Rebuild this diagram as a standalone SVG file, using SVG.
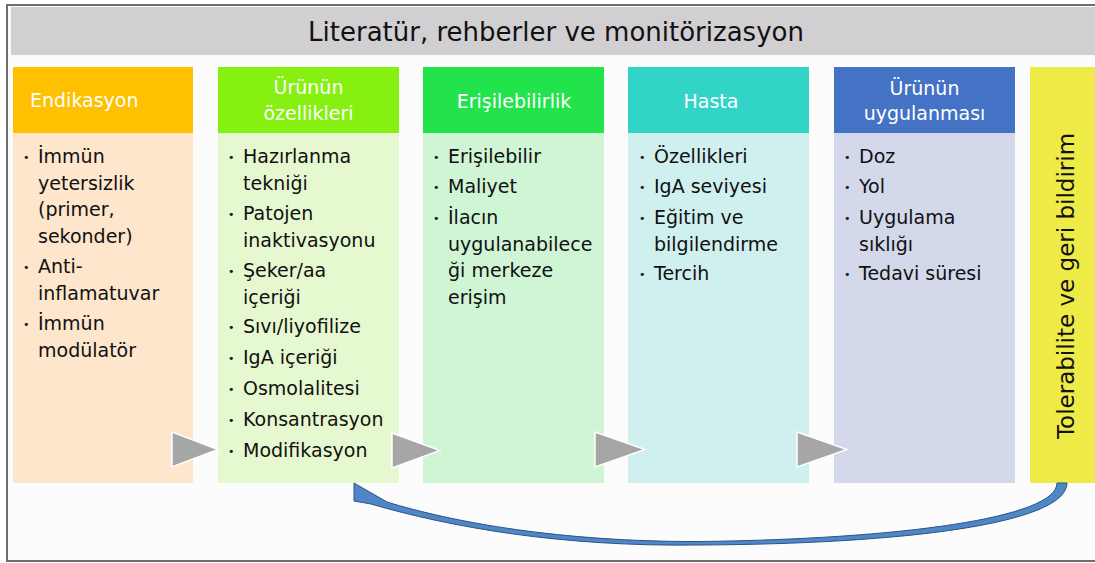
<svg xmlns="http://www.w3.org/2000/svg" width="1095" height="563" viewBox="0 0 1095 563">
<style>
text{font-family:"DejaVu Sans","Liberation Sans",sans-serif;}
.hd{fill:#ffffff;font-size:19px;}
.it{fill:#111111;font-size:19px;}
.bl{fill:#111111;font-size:11px;}
.ar{fill:#a6a6a6;stroke:#ffffff;stroke-width:1.5;stroke-linejoin:miter;}
</style>
<rect x="0" y="0" width="1095" height="563" fill="#ffffff"/>
<rect x="7" y="5" width="1090" height="556" fill="#fcfcfc" stroke="#6e6e6e" stroke-width="2"/>
<g id="title">
<rect x="11" y="7" width="1084" height="48" fill="#d1cfd1"/>
<text x="556" y="41" font-size="26" text-anchor="middle" fill="#111111">Literatür, rehberler ve monitörizasyon</text>
</g>
<g id="endikasyon">
<rect x="13" y="133" width="180" height="350" fill="#fde6cc"/>
<rect x="13" y="67" width="180" height="66" fill="#ffc000"/>
<text class="hd" x="30" y="107">Endikasyon</text>
<text class="bl" x="23" y="161">•</text>
<text class="it" x="38" y="163">İmmün</text>
<text class="it" x="38" y="189.5">yetersizlik</text>
<text class="it" x="38" y="216">(primer,</text>
<text class="it" x="38" y="242.5">sekonder)</text>
<text class="bl" x="23" y="271">•</text>
<text class="it" x="38" y="273">Anti-</text>
<text class="it" x="38" y="299.5">inflamatuvar</text>
<text class="bl" x="23" y="328">•</text>
<text class="it" x="38" y="330">İmmün</text>
<text class="it" x="38" y="356.5">modülatör</text>
</g>
<g id="urun-ozellikleri">
<rect x="218" y="133" width="181" height="350" fill="#e6f8cf"/>
<rect x="218" y="67" width="181" height="66" fill="#86f010"/>
<text class="hd" x="308.5" y="94" text-anchor="middle">Ürünün</text>
<text class="hd" x="308.5" y="120" text-anchor="middle">özellikleri</text>
<text class="bl" x="228" y="161">•</text>
<text class="it" x="243" y="163">Hazırlanma</text>
<text class="it" x="243" y="189.5">tekniği</text>
<text class="bl" x="228" y="218">•</text>
<text class="it" x="243" y="220">Patojen</text>
<text class="it" x="243" y="246.5">inaktivasyonu</text>
<text class="bl" x="228" y="275">•</text>
<text class="it" x="243" y="277">Şeker/aa</text>
<text class="it" x="243" y="303.5">içeriği</text>
<text class="bl" x="228" y="331">•</text>
<text class="it" x="243" y="333">Sıvı/liyofilize</text>
<text class="bl" x="228" y="362">•</text>
<text class="it" x="243" y="364">IgA içeriği</text>
<text class="bl" x="228" y="393">•</text>
<text class="it" x="243" y="395">Osmolalitesi</text>
<text class="bl" x="228" y="424">•</text>
<text class="it" x="243" y="426">Konsantrasyon</text>
<text class="bl" x="228" y="455">•</text>
<text class="it" x="243" y="457">Modifikasyon</text>
</g>
<g id="erisilebilirlik">
<rect x="423" y="133" width="181" height="350" fill="#cff5d4"/>
<rect x="423" y="67" width="181" height="66" fill="#22e34b"/>
<text class="hd" x="514" y="108" text-anchor="middle">Erişilebilirlik</text>
<text class="bl" x="433" y="161">•</text>
<text class="it" x="448" y="163">Erişilebilir</text>
<text class="bl" x="433" y="191">•</text>
<text class="it" x="448" y="193">Maliyet</text>
<text class="bl" x="433" y="222">•</text>
<text class="it" x="448" y="224">İlacın</text>
<text class="it" x="448" y="250.5">uygulanabilece</text>
<text class="it" x="448" y="277">ği merkeze</text>
<text class="it" x="448" y="303.5">erişim</text>
</g>
<g id="hasta">
<rect x="628" y="133" width="181" height="350" fill="#d0efef"/>
<rect x="628" y="67" width="181" height="66" fill="#33d4c8"/>
<text class="hd" x="711" y="108" text-anchor="middle">Hasta</text>
<text class="bl" x="639" y="161">•</text>
<text class="it" x="654" y="163">Özellikleri</text>
<text class="bl" x="639" y="191">•</text>
<text class="it" x="654" y="193">IgA seviyesi</text>
<text class="bl" x="639" y="222">•</text>
<text class="it" x="654" y="224">Eğitim ve</text>
<text class="it" x="654" y="250.5">bilgilendirme</text>
<text class="bl" x="639" y="278">•</text>
<text class="it" x="654" y="280">Tercih</text>
</g>
<g id="urun-uygulanmasi">
<rect x="834" y="133" width="181" height="350" fill="#d3d8ea"/>
<rect x="834" y="67" width="181" height="66" fill="#4472c4"/>
<text class="hd" x="924.5" y="95" text-anchor="middle">Ürünün</text>
<text class="hd" x="924.5" y="120" text-anchor="middle">uygulanması</text>
<text class="bl" x="844" y="161">•</text>
<text class="it" x="859" y="163">Doz</text>
<text class="bl" x="844" y="191">•</text>
<text class="it" x="859" y="193">Yol</text>
<text class="bl" x="844" y="222">•</text>
<text class="it" x="859" y="224">Uygulama</text>
<text class="it" x="859" y="250.5">sıklığı</text>
<text class="bl" x="844" y="278">•</text>
<text class="it" x="859" y="280">Tedavi süresi</text>
</g>
<g id="tolerabilite">
<rect x="1030" y="67" width="70" height="416" fill="#eeea46"/>
<text transform="translate(1074,286) rotate(-90)" font-size="23" text-anchor="middle" fill="#111111">Tolerabilite ve geri bildirim</text>
</g>
<g id="connectors">
<polygon class="ar" points="172,432 172,467 218,449.5"/>
<polygon class="ar" points="392,433 392,468 440,450.5"/>
<polygon class="ar" points="595,432 595,467 645,449.5"/>
<polygon class="ar" points="797,432 797,467 847,449.5"/>
<path d="M 1067 483 C 1067 524, 902 544, 700 545 C 560 547, 450 527, 371 504 L 354 501 L 354 483 L 387 502 C 452 522, 560 542, 700 541.5 C 900 539, 1057 518, 1057 483 Z" fill="#4f86c6" stroke="#2d5486" stroke-width="1" stroke-linejoin="miter"/>
</g>
</svg>
